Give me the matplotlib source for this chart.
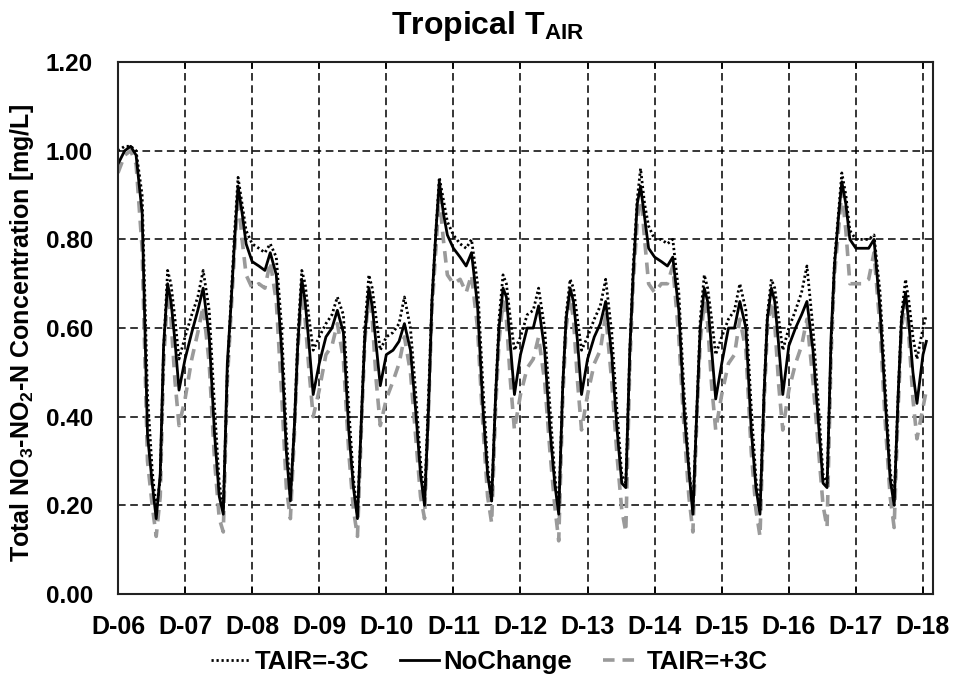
import numpy as np
import matplotlib
matplotlib.use('Agg')
import matplotlib.pyplot as plt

# Arial-like bold text everywhere
plt.rcParams['font.family'] = ['Liberation Sans', 'DejaVu Sans']
plt.rcParams['font.weight'] = 'bold'
plt.rcParams['axes.labelweight'] = 'bold'
plt.rcParams['mathtext.fontset'] = 'custom'
plt.rcParams['mathtext.rm'] = 'Liberation Sans:bold'
plt.rcParams['mathtext.bf'] = 'Liberation Sans:bold'
plt.rcParams['mathtext.it'] = 'Liberation Sans:bold'

day_labels = ['D-06', 'D-07', 'D-08', 'D-09', 'D-10', 'D-11', 'D-12',
              'D-13', 'D-14', 'D-15', 'D-16', 'D-17', 'D-18']

# sampling points within each day (fraction of day)
day_offsets = [0.00, 0.10, 0.19, 0.27, 0.36, 0.44, 0.51,
               0.57, 0.63, 0.68, 0.74, 0.79, 0.85, 0.91]

# one row per day, values in mg/L
tair_minus3 = [
    [1.00, 1.01, 1.01, 1.00, 0.90, 0.45, 0.28, 0.19, 0.26, 0.55, 0.73, 0.70, 0.62, 0.53],
    [0.58, 0.63, 0.67, 0.73, 0.64, 0.42, 0.25, 0.19, 0.50, 0.65, 0.82, 0.94, 0.88, 0.82],
    [0.79, 0.78, 0.77, 0.79, 0.76, 0.60, 0.36, 0.22, 0.38, 0.58, 0.73, 0.70, 0.62, 0.55],
    [0.58, 0.61, 0.63, 0.67, 0.63, 0.42, 0.26, 0.18, 0.40, 0.60, 0.72, 0.69, 0.62, 0.55],
    [0.58, 0.59, 0.61, 0.67, 0.60, 0.45, 0.30, 0.21, 0.45, 0.66, 0.82, 0.94, 0.89, 0.84],
    [0.81, 0.79, 0.78, 0.80, 0.70, 0.47, 0.29, 0.21, 0.45, 0.62, 0.72, 0.70, 0.62, 0.55],
    [0.58, 0.63, 0.64, 0.69, 0.60, 0.42, 0.27, 0.19, 0.47, 0.63, 0.71, 0.69, 0.62, 0.55],
    [0.58, 0.62, 0.65, 0.71, 0.59, 0.41, 0.27, 0.25, 0.55, 0.74, 0.89, 0.96, 0.88, 0.83],
    [0.80, 0.80, 0.79, 0.80, 0.68, 0.45, 0.29, 0.19, 0.42, 0.62, 0.72, 0.69, 0.62, 0.54],
    [0.58, 0.62, 0.64, 0.70, 0.64, 0.42, 0.26, 0.19, 0.45, 0.63, 0.71, 0.69, 0.62, 0.55],
    [0.60, 0.64, 0.68, 0.74, 0.60, 0.43, 0.27, 0.25, 0.56, 0.75, 0.86, 0.95, 0.90, 0.82],
    [0.80, 0.80, 0.80, 0.81, 0.68, 0.46, 0.28, 0.21, 0.45, 0.63, 0.71, 0.66, 0.58, 0.53],
]
no_change = [
    [0.97, 1.00, 1.01, 0.99, 0.86, 0.36, 0.25, 0.17, 0.27, 0.56, 0.70, 0.66, 0.57, 0.46],
    [0.53, 0.59, 0.64, 0.69, 0.58, 0.36, 0.22, 0.18, 0.52, 0.64, 0.80, 0.92, 0.86, 0.79],
    [0.75, 0.74, 0.73, 0.77, 0.72, 0.55, 0.32, 0.21, 0.38, 0.56, 0.71, 0.66, 0.56, 0.45],
    [0.52, 0.58, 0.60, 0.64, 0.59, 0.37, 0.24, 0.17, 0.40, 0.58, 0.69, 0.65, 0.56, 0.47],
    [0.54, 0.55, 0.57, 0.61, 0.55, 0.41, 0.27, 0.20, 0.42, 0.66, 0.82, 0.93, 0.86, 0.81],
    [0.78, 0.76, 0.74, 0.77, 0.65, 0.42, 0.27, 0.21, 0.45, 0.60, 0.69, 0.67, 0.56, 0.45],
    [0.54, 0.60, 0.60, 0.65, 0.55, 0.37, 0.25, 0.18, 0.47, 0.62, 0.69, 0.66, 0.57, 0.45],
    [0.53, 0.58, 0.61, 0.66, 0.54, 0.37, 0.25, 0.24, 0.55, 0.72, 0.88, 0.92, 0.85, 0.78],
    [0.76, 0.75, 0.74, 0.76, 0.64, 0.41, 0.28, 0.18, 0.42, 0.60, 0.69, 0.66, 0.55, 0.44],
    [0.52, 0.60, 0.60, 0.66, 0.60, 0.37, 0.24, 0.18, 0.45, 0.62, 0.69, 0.66, 0.56, 0.45],
    [0.56, 0.60, 0.63, 0.66, 0.55, 0.39, 0.25, 0.24, 0.58, 0.74, 0.85, 0.93, 0.88, 0.80],
    [0.78, 0.78, 0.78, 0.80, 0.64, 0.43, 0.26, 0.20, 0.45, 0.62, 0.68, 0.61, 0.50, 0.43],
]
tair_plus3 = [
    [0.95, 0.99, 1.00, 0.97, 0.78, 0.30, 0.20, 0.13, 0.22, 0.52, 0.68, 0.62, 0.48, 0.38],
    [0.44, 0.53, 0.59, 0.65, 0.52, 0.30, 0.17, 0.14, 0.48, 0.62, 0.78, 0.90, 0.80, 0.72],
    [0.69, 0.70, 0.69, 0.75, 0.66, 0.45, 0.24, 0.17, 0.36, 0.55, 0.68, 0.62, 0.50, 0.40],
    [0.46, 0.54, 0.56, 0.61, 0.53, 0.32, 0.19, 0.13, 0.38, 0.57, 0.68, 0.62, 0.48, 0.38],
    [0.44, 0.48, 0.52, 0.58, 0.50, 0.35, 0.22, 0.17, 0.42, 0.64, 0.78, 0.90, 0.80, 0.72],
    [0.70, 0.71, 0.68, 0.72, 0.60, 0.38, 0.22, 0.16, 0.42, 0.57, 0.66, 0.62, 0.48, 0.37],
    [0.45, 0.51, 0.53, 0.58, 0.48, 0.32, 0.20, 0.12, 0.44, 0.60, 0.67, 0.62, 0.48, 0.37],
    [0.45, 0.52, 0.55, 0.63, 0.48, 0.31, 0.19, 0.14, 0.52, 0.70, 0.84, 0.91, 0.80, 0.70],
    [0.68, 0.70, 0.70, 0.74, 0.58, 0.37, 0.22, 0.14, 0.40, 0.57, 0.66, 0.61, 0.47, 0.37],
    [0.45, 0.52, 0.54, 0.62, 0.55, 0.32, 0.19, 0.13, 0.42, 0.60, 0.66, 0.61, 0.47, 0.37],
    [0.46, 0.52, 0.56, 0.62, 0.48, 0.33, 0.20, 0.15, 0.54, 0.72, 0.82, 0.91, 0.82, 0.70],
    [0.70, 0.70, 0.71, 0.77, 0.60, 0.38, 0.22, 0.15, 0.42, 0.60, 0.66, 0.58, 0.44, 0.35],
]
# last samples on D-18
tail_t = [12.00, 12.05]
tail_minus3 = [0.60, 0.63]
tail_nochange = [0.54, 0.57]
tail_plus3 = [0.42, 0.46]

t = [d + o for d in range(len(no_change)) for o in day_offsets] + tail_t
y_m3 = np.concatenate(tair_minus3 + [tail_minus3])
y_nc = np.concatenate(no_change + [tail_nochange])
y_p3 = np.concatenate(tair_plus3 + [tail_plus3])

fig = plt.figure(figsize=(9.56, 6.75), dpi=100)
ax = fig.add_axes([0.1234, 0.12, 0.8526, 0.788])

l_p3, = ax.plot(t, y_p3, color='#9a9a9a', lw=2.6, dashes=(3.2, 2.2), label='TAIR=+3C')
l_m3, = ax.plot(t, y_m3, color='black', lw=2.0, linestyle=(0, (0.8, 1.0)), label='TAIR=-3C')
l_nc, = ax.plot(t, y_nc, color='black', lw=2.0, label='NoChange')

ax.set_xlim(0, 12.15)
ax.set_ylim(0, 1.2)
ax.set_xticks(range(len(day_labels)))
ax.set_xticklabels(day_labels)
ax.set_yticks(np.arange(0, 1.21, 0.2))
ax.set_yticklabels(['%.2f' % v for v in np.arange(0, 1.21, 0.2)])

ax.grid(True, color='black', lw=1.1, linestyle=(0, (5, 3)))
ax.set_axisbelow(True)
for s in ax.spines.values():
    s.set_linewidth(1.5)
    s.set_color('#222222')

ax.tick_params(axis='x', direction='in', top=True, length=5, width=1.2,
               labelsize=18, pad=15)
ax.tick_params(axis='y', length=0, labelsize=17.5, pad=18)

ax.set_ylabel(r'Total NO$_{3}$-NO$_{2}$-N Concentration [mg/L]', fontsize=18)
ax.yaxis.set_label_coords(-0.1, 0.49)

fig.text(0.51, 0.962, r'Tropical T$_{\mathbf{AIR}}$', ha='center', va='center',
         fontsize=23, weight='bold')

fig.legend([l_m3, l_nc, l_p3], ['TAIR=-3C', 'NoChange', 'TAIR=+3C'],
           loc='center', bbox_to_anchor=(0.512, 0.019), ncol=3, frameon=False,
           fontsize=18.5, handlelength=1.5, columnspacing=1.2, handletextpad=0.2)

fig.savefig('out.png', dpi=100)
